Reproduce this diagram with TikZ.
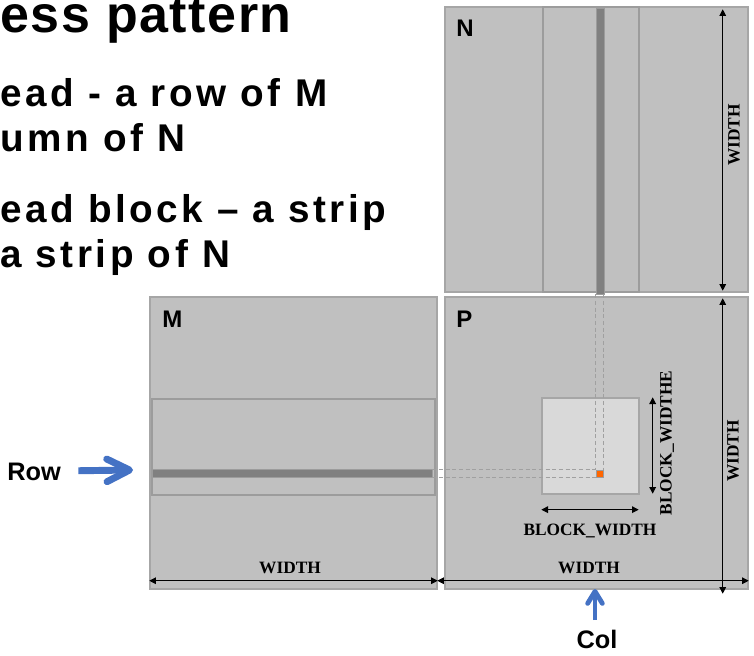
\documentclass[tikz,border=0pt]{standalone}
\usepackage{fontspec}
\setmainfont{Liberation Serif}
\setsansfont{Liberation Sans}
\newfontfamily\slidefont{Liberation Sans}[LetterSpace=9]
\newfontfamily\titlefont{Liberation Sans}[LetterSpace=3]
\usepackage{xcolor}
\usetikzlibrary{positioning,arrows.meta,fit}
\definecolor{matfill}{HTML}{C0C0C0}
\definecolor{matline}{HTML}{A6A6A6}
\definecolor{stripline}{HTML}{9C9C9C}
\definecolor{darkfill}{HTML}{808080}
\definecolor{blockfill}{HTML}{D9D9D9}
\definecolor{elemfill}{HTML}{FF6600}
\definecolor{guidegray}{HTML}{A0A0A0}
\definecolor{pointblue}{HTML}{4472C4}
\tikzset{
mat/.style={
draw=matline,
fill=matfill,
line width=1.1pt,
inner sep=0pt
},
strip/.style={
draw=stripline,
fill=matfill,
line width=0.8pt,
inner sep=0pt
},
darkbar/.style={
draw=stripline,
fill=darkfill,
line width=0.4pt,
inner sep=0pt
},
blockbox/.style={
draw=matline,
fill=blockfill,
line width=1pt,
inner sep=0pt
},
elembox/.style={
draw=stripline,
fill=elemfill,
line width=0.4pt,
inner sep=0pt
},
slidetext/.style={
anchor=base west,
inner sep=0pt,
font=\slidefont\bfseries\fontsize{29}{29}\selectfont
},
matlabel/.style={
anchor=base west,
inner sep=0pt,
font=\sffamily\bfseries\fontsize{18}{18}\selectfont
},
pointlabel/.style={
inner sep=0pt,
font=\sffamily\bfseries\fontsize{19}{19}\selectfont
},
dimlabel/.style={
inner sep=0pt,
font=\bfseries\fontsize{13}{13}\selectfont
},
dim/.style={
{Triangle[length=5pt,width=5pt]}-{Triangle[length=5pt,width=5pt]},
line width=0.75pt
},
guide/.style={
draw=guidegray,
dash pattern=on 3pt off 2pt,
line width=0.7pt
},
pointer/.style={
-{Straight Barb[length=17pt,width=17pt,line cap=round,line join=round]},
draw=pointblue,
line width=5.2pt
},
smallpointer/.style={
-{Straight Barb[length=9pt,width=11pt,line cap=round,line join=round]},
draw=pointblue,
line width=3.6pt
}
}

\begin{document}
\begin{tikzpicture}[x=0.75pt,y=-0.75pt]
\useasboundingbox (0,0) rectangle (754,656);

% slide text
\node[slidetext,font=\titlefont\bfseries\fontsize{39}{39}\selectfont](title) at (0,33){ess pattern};
\node[slidetext](line1) at (0,107){ead - a row of M};
\node[slidetext](line2) at (0,152){umn of N};
\node[slidetext](line3) at (0,223){ead block – a strip};
\node[slidetext](line4) at (0,268){a strip of N};

% matrices
\node[mat,fit={(445,7)(748,292)}](N){};
\node[mat,fit={(150,297)(437,589)}](M){};
\node[mat,fit={(445,297)(748,589)}](P){};
\node[matlabel](nlbl) at (456,37){N};
\node[matlabel](mlbl) at (162,327){M};
\node[matlabel](plbl) at (456,328){P};

% strips, row, column, block
\node[strip,fit={(543,7)(639,292)}](colstrip){};
\node[strip,fit={(152,399)(435,495)}](rowstrip){};
\node[darkbar,fit={(596,8)(604,294)}](colbar){};
\node[darkbar,fit={(152,469)(432,477)}](rowbar){};
\node[blockbox,fit={(542,398)(639,494)}](blk){};
\node[elembox,fit={(596,470)(603,477)}](elem){};

\draw[guide](rowbar.east |- elem.north)--(elem.north west);
\draw[guide](rowbar.east |- elem.south)--(elem.south west);
\draw[guide](colbar.south -| elem.west)--(elem.north west);
\draw[guide](colbar.south -| elem.east)--(elem.north east);

% dimensions
\draw[dim]([yshift=6.75pt]M.south west)--([yshift=6.75pt]M.south east);
\draw[dim]([xshift=-5.25pt,yshift=6.75pt]P.south west)--([yshift=6.75pt]P.south east);
\draw[dim]([xshift=-19.5pt,yshift=-2.25pt]N.north east)--([xshift=-19.5pt,yshift=1.5pt]N.south east);
\draw[dim]([xshift=-19.5pt,yshift=-1.5pt]P.north east)--([xshift=-19.5pt,yshift=-3pt]P.south east);
\draw[dim]([yshift=-11.25pt]blk.south west)--([xshift=-0.75pt,yshift=-11.25pt]blk.south east);
\draw[dim]([xshift=9.75pt]blk.north east)--([xshift=9.75pt,yshift=0.75pt]blk.south east);

\node[dimlabel,anchor=base](mwidth) at (290,573){WIDTH};
\node[dimlabel,anchor=base](pwidth) at (589,573){WIDTH};
\node[dimlabel,anchor=base](bwidth) at (590,535){BLOCK\_WIDTH};
\node[dimlabel,rotate=90](nheight) at (734,135){WIDTH};
\node[dimlabel,rotate=90](pheight) at (733,451){WIDTH};
\node[dimlabel,rotate=90](bheight) at (667,443){BLOCK\_WIDTHE};

% row and column pointers
\node[pointlabel,anchor=base west](rowlbl) at (7,480){Row};
\node[pointlabel,anchor=base](collbl) at (597,648){Col};
\coordinate(rowtip) at (133,470);
\coordinate(coltip) at (595,589);
\draw[pointer]([xshift=13pt,yshift=0.5pt]rowlbl.east)--(rowtip);
\draw[smallpointer]([xshift=-1.5pt,yshift=7pt]collbl.north)--(coltip);
\end{tikzpicture}
\end{document}
